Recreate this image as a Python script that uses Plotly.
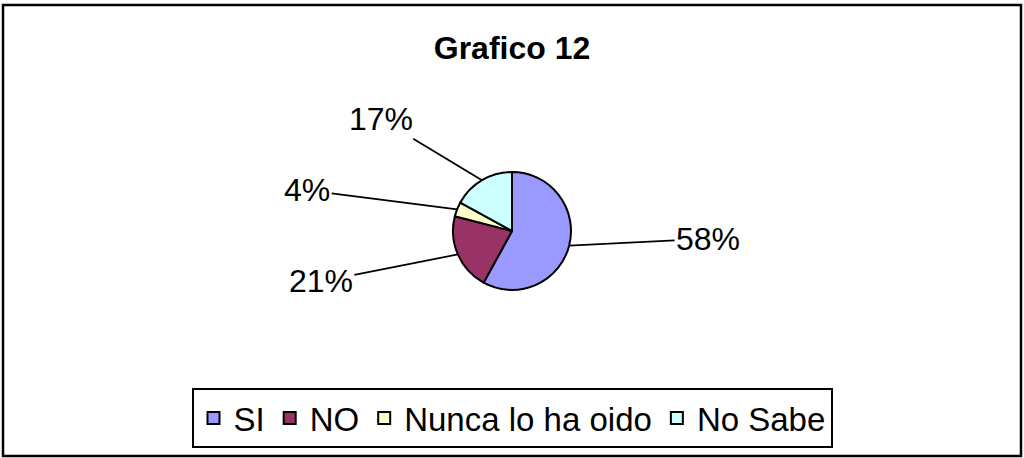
import math

import plotly.graph_objects as go

LABELS = ["SI", "NO", "Nunca lo ha oido", "No Sabe"]
VALUES = [58, 21, 4, 17]
TEXTS = ["58%", "21%", "4%", "17%"]
COLORS = ["#9999FF", "#993366", "#FFFFCC", "#CCFFFF"]

W, H = 1024, 458
CX, CY, R = 512, 231, 59  # pie centre / radius in pixels (from top-left)

# leader line offsets (pixels) from slice edge to label text centre
OFFSETS = [(139, -7), (-137, 27), (-150, -19), (-101, -61)]

fig = go.Figure()
fig.add_trace(
    go.Pie(
        labels=LABELS,
        values=VALUES,
        sort=False,
        direction="clockwise",
        rotation=0,
        textinfo="none",
        hoverinfo="label+percent",
        marker={"colors": COLORS, "line": {"color": "black", "width": 2}},
        domain={
            "x": [(CX - R) / W, (CX + R) / W],
            "y": [(H - CY - R) / H, (H - CY + R) / H],
        },
    )
)

# labels with leader lines from the middle of each slice edge
total = sum(VALUES)
start = 0.0
annotations = []
for value, text, (ax, ay) in zip(VALUES, TEXTS, OFFSETS):
    mid = (start + value / 2) / total * 2 * math.pi
    start += value
    px = CX + R * math.sin(mid)
    py = CY - R * math.cos(mid)
    annotations.append(
        dict(
            x=px / W,
            y=(H - py) / H,
            xref="paper",
            yref="paper",
            text=text,
            showarrow=True,
            arrowhead=0,
            arrowwidth=1.8,
            arrowcolor="black",
            ax=ax,
            ay=ay,
            font={"size": 32, "color": "black"},
        )
    )

fig.update_layout(
    width=W,
    height=H,
    margin={"l": 0, "r": 0, "t": 0, "b": 0},
    paper_bgcolor="white",
    font={"family": "Liberation Sans, Arial, sans-serif", "color": "black"},
    title={
        "text": "<b>Grafico 12</b>",
        "x": 0.5,
        "xanchor": "center",
        "y": (H - 48) / H,
        "yanchor": "middle",
        "font": {"size": 32, "color": "black"},
    },
    annotations=annotations,
    showlegend=True,
    legend={
        "orientation": "h",
        "x": 0.5,
        "xanchor": "center",
        "y": 40 / H,
        "yanchor": "middle",
        "font": {"size": 33, "color": "black"},
        "bordercolor": "black",
        "borderwidth": 2,
        "bgcolor": "white",
        "itemwidth": 30,
    },
    shapes=[
        dict(
            type="rect",
            xref="paper",
            yref="paper",
            x0=3 / W,
            x1=1021 / W,
            y0=2 / H,
            y1=(H - 5) / H,
            line={"color": "black", "width": 2.5},
        )
    ],
)

fig.write_html(
    "out.html",
    config={"displayModeBar": False},
    post_script="document.body.style.margin='0';",
)
